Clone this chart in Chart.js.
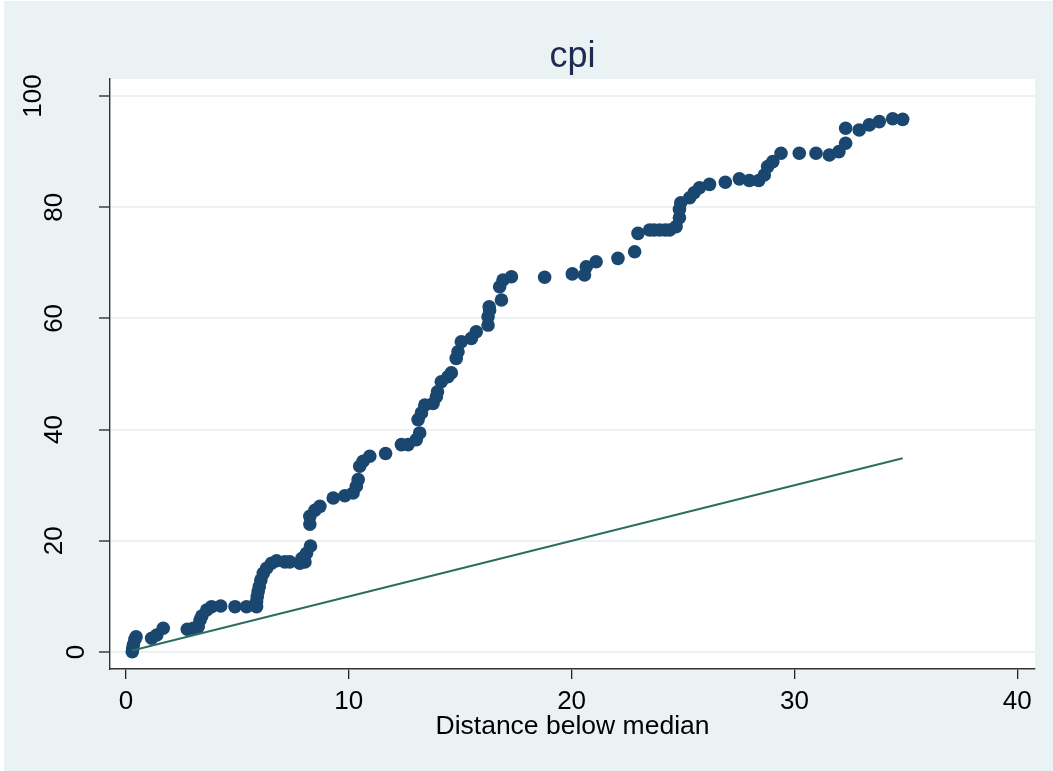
<!DOCTYPE html>
<html><head><meta charset="utf-8">
<script src="https://cdn.jsdelivr.net/npm/chart.js@4"></script>
<style>html,body{margin:0;padding:0;background:#fff;}#wrap{width:1053px;height:771px;}</style>
</head><body><div id="wrap"><canvas id="c" width="1053" height="771"></canvas></div>
<script>
const distBelow = [0.28,0.30,0.33,0.40,0.45,1.15,1.38,1.67,2.75,3.02,3.24,3.32,3.40,3.62,3.84,4.25,4.89,5.41,5.86,5.86,5.89,5.93,5.98,6.05,6.16,6.31,6.53,6.76,7.13,7.35,7.80,7.90,8.03,8.10,8.28,8.25,8.25,8.48,8.70,9.30,9.82,10.19,10.34,10.42,10.49,10.64,10.94,11.65,12.36,12.66,13.03,13.18,13.11,13.26,13.41,13.78,13.93,13.98,14.15,14.45,14.60,14.82,14.90,15.05,15.50,15.72,16.25,16.25,16.32,16.30,16.85,16.77,16.92,17.30,18.79,20.03,20.58,20.66,21.10,22.08,22.83,22.98,23.50,23.70,23.95,24.20,24.40,24.69,24.84,24.84,24.90,25.30,25.50,25.74,26.19,26.90,27.53,27.98,28.40,28.65,28.80,29.03,29.40,30.22,30.97,31.57,32.00,32.30,32.30,32.91,33.36,33.81,34.41,34.86];
const distAbove = [0.05,0.6,1.3,2.3,2.75,2.46,3.06,4.26,4.08,4.26,4.56,5.76,6.47,7.55,8.15,8.27,8.15,8.15,8.15,9.05,9.95,10.85,11.75,12.95,14.15,15.05,15.95,16.4,16.2,16.2,15.95,16.85,16.2,17.75,19.06,23.0,24.4,25.5,26.2,27.7,28.1,28.6,29.8,31.0,33.4,34.3,35.2,35.7,37.3,37.3,38.2,39.4,41.8,43.0,44.4,44.7,45.9,46.8,48.6,49.5,50.2,52.8,54.0,55.8,56.4,57.6,58.8,60.3,61.5,62.1,63.3,65.7,66.9,67.5,67.4,68.0,67.8,69.3,70.2,70.8,72.0,75.3,75.9,75.9,75.9,75.9,75.9,76.5,78.1,79.6,80.8,81.7,82.6,83.5,84.1,84.5,85.1,84.8,84.8,85.8,87.3,88.2,89.7,89.7,89.7,89.4,90.0,91.5,94.2,93.9,94.8,95.4,95.9,95.8];
const xTicks = [0,10,20,30,40];
const yTicks = [0,20,40,60,80,100];
const titleText = 'cpi';
const xAxisTitle = 'Distance below median';

const FONT = '"Liberation Sans", Arial, Helvetica, sans-serif';
const BG = '#EAF2F3';
const lo = Math.min(...distBelow), hi = Math.max(...distBelow);

const bgPlugin = {
  id: 'bg',
  beforeDraw(chart) {
    const ctx = chart.ctx, a = chart.chartArea;
    ctx.save();
    ctx.fillStyle = '#ffffff';
    ctx.fillRect(0, 0, chart.width, chart.height);
    ctx.fillStyle = BG;
    ctx.fillRect(4, 1, chart.width - 4, chart.height - 1);
    ctx.fillStyle = '#ffffff';
    ctx.fillRect(a.left, a.top, a.right - a.left, a.bottom - a.top);
    ctx.restore();
  }
};
const yLabelPlugin = {
  id: 'ylabels',
  afterDraw(chart) {
    const ctx = chart.ctx, s = chart.scales.y;
    ctx.save();
    ctx.font = '26px ' + FONT;
    ctx.fillStyle = '#000';
    ctx.textAlign = 'center';
    ctx.textBaseline = 'middle';
    yTicks.forEach(v => {
      const t = String(v);
      const xc = 98 - 21.5 * t.length;
      const py = s.getPixelForValue(v);
      ctx.save();
      ctx.translate(xc, py);
      ctx.rotate(-Math.PI / 2);
      ctx.fillText(t, 0, 0);
      ctx.restore();
    });
    ctx.restore();
  }
};

new Chart(document.getElementById('c'), {
  type: 'scatter',
  data: {
    datasets: [
      {
        data: [{x: lo, y: lo}, {x: hi, y: hi}],
        showLine: true, pointRadius: 0, borderColor: '#2d6e61', borderWidth: 2, order: 0
      },
      {
        data: distBelow.map((x, i) => ({x: x, y: distAbove[i]})),
        pointRadius: 6.8, pointBackgroundColor: '#1A476F', pointBorderColor: '#1A476F',
        pointBorderWidth: 0, showLine: false, order: 1
      }
    ]
  },
  options: {
    responsive: false, animation: false, devicePixelRatio: 1,
    layout: {padding: {left: 0, top: 0, right: 18, bottom: 0}},
    plugins: {
      legend: {display: false}, tooltip: {enabled: false},
      title: {
        display: true, text: titleText, fullSize: false, color: '#1e2a4f',
        font: {family: FONT, size: 36, weight: 'normal'},
        padding: {top: 35, bottom: 0.8}
      }
    },
    scales: {
      x: {
        type: 'linear', min: -0.72, max: 40.8,
        afterBuildTicks: s => { s.ticks = xTicks.map(v => ({value: v})); },
        afterFit: s => { s.height = 102; },
        ticks: {color: '#000', font: {family: FONT, size: 26}, padding: 7, maxRotation: 0},
        grid: {drawOnChartArea: false, drawTicks: true, tickLength: 10, tickColor: '#222', lineWidth: 1.3},
        border: {display: true, color: '#333', width: 1.4},
        title: {display: true, text: xAxisTitle, color: '#000', font: {family: FONT, size: 26.5}, padding: {top: 0, bottom: 28}}
      },
      y: {
        type: 'linear', min: -3.06, max: 103.06,
        afterBuildTicks: s => { s.ticks = yTicks.map(v => ({value: v})); },
        afterFit: s => { s.width = 110; },
        ticks: {display: false},
        grid: {color: BG, lineWidth: 2, drawTicks: true, tickLength: 11, tickColor: '#222', tickWidth: 1.3},
        border: {display: true, color: '#333', width: 1.4}
      }
    }
  },
  plugins: [bgPlugin, yLabelPlugin]
});
</script>
</body></html>
